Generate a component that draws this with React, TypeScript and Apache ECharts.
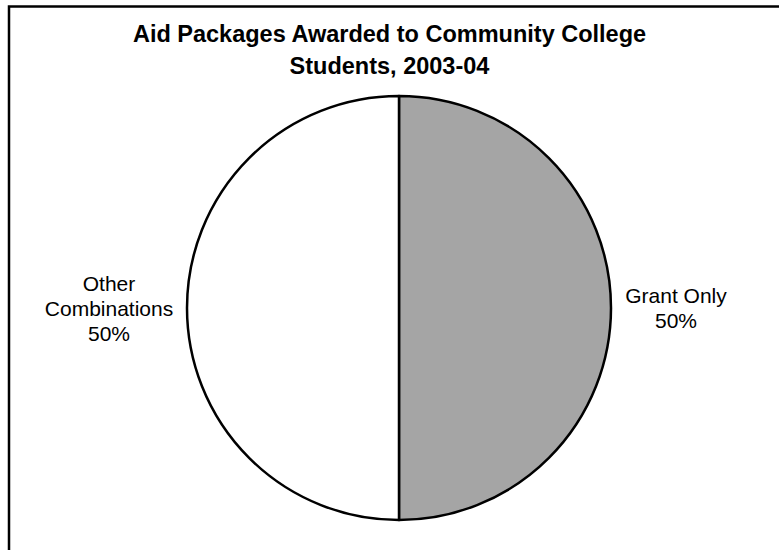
import React, { useEffect, useRef } from "react";
import * as echarts from "echarts";

const titleLines = ["Aid Packages Awarded to Community College", "Students, 2003-04"];
const categories = ["Grant Only", "Other Combinations"];
const labelLines = [["Grant Only"], ["Other", "Combinations"]];
const values = [50, 50];
const colors = ["#a5a5a5", "#ffffff"];
const labelWidths = [104, 130];

export default function App() {
  const ref = useRef<HTMLDivElement>(null);
  useEffect(() => {
    document.body.style.margin = "0";
    const chart = echarts.init(ref.current!, null, { renderer: "svg" });
    const font = "Arial, 'Liberation Sans', sans-serif";
    const richStyle = (w: number) => ({
      width: w,
      align: "center",
      fontFamily: font,
      fontSize: 21,
      lineHeight: 25,
      color: "#000",
    });
    chart.setOption({
      animation: false,
      backgroundColor: "#ffffff",
      title: {
        text: titleLines.join("\n"),
        left: "center",
        top: 13,
        textStyle: {
          fontFamily: font,
          fontWeight: "bold",
          fontSize: 23.5,
          lineHeight: 32,
          color: "#000",
        },
      },
      graphic: [
        {
          type: "rect",
          shape: { x: 9, y: 6.5, width: 820, height: 600 },
          style: { fill: "none", stroke: "#000", lineWidth: 2.5 },
          silent: true,
        },
      ],
      series: [
        {
          type: "pie",
          center: [399, 308],
          radius: 212,
          startAngle: 90,
          clockwise: true,
          data: categories.map((name, i) => ({
            name,
            value: values[i],
            itemStyle: { color: colors[i] },
            label: {
              formatter: (p: any) =>
                [...labelLines[i], p.percent.toFixed(0) + "%"]
                  .map((t) => `{a${i}|${t}}`)
                  .join("\n"),
            },
          })),
          itemStyle: { borderColor: "#000", borderWidth: 2.5 },
          label: {
            show: true,
            position: "outside",
            fontFamily: font,
            fontSize: 21,
            color: "#000",
            lineHeight: 25,
            rich: {
              a0: richStyle(labelWidths[0]),
              a1: richStyle(labelWidths[1]),
            },
          },
          labelLine: { show: false, length: 3, length2: 5 },
          emphasis: { disabled: true },
        },
      ],
    });
    return () => chart.dispose();
  }, []);
  return <div ref={ref} style={{ width: 779, height: 550 }} />;
}
